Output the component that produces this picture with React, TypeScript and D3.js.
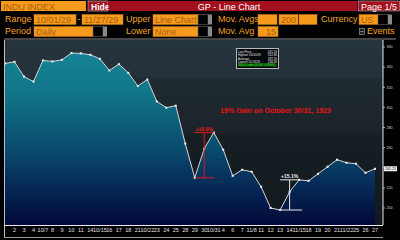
import React from "react";
import * as d3 from "d3";

const dates = [
  "10/1","10/2","10/3","10/4","10/7","10/8","10/9","10/10","10/11","10/14",
  "10/15","10/16","10/17","10/18","10/21","10/22","10/23","10/24","10/25","10/28",
  "10/29","10/30","10/31","11/4","11/6","11/7","11/8","11/11","11/12","11/13",
  "11/14","11/15","11/18","11/19","11/20","11/21","11/22","11/25","11/26","11/27",
];
const tickLabels = [
  "","2","3","4","10/7","8","9","10","11","14",
  "10/15","16","17","18","21","10/22","23","24","25","28",
  "29","30","10/31","4","6","7","11/8","11","12","13",
  "14","11/15","18","19","20","21","11/22","25","26","27",
];
const closes = [
  343.7,345.3,330.7,325.7,346.7,345.7,347.3,354.0,353.7,352.3,
  348.3,336.7,343.0,334.3,321.3,327.7,306.0,299.7,301.7,264.0,
  230.0,259.0,275.0,258.0,232.0,238.0,236.0,221.0,200.0,198.0,
  216.0,228.0,227.0,234.0,241.0,248.0,245.0,244.0,235.0,239.0,
];
const yTicks = [200,220,240,260,280,300,320,340,360];
const lastPriceLabel = "241.23";
const legendRows = [
  ["Last Price","241.23"],
  ["Highest 10/10/29","352.86"],
  ["Average","287.20"],
  ["Lowest 11/13/29","198.69"],
];
const legendGreen = "INDU Index (DOW JONES)";

const FONT = "'Liberation Sans', Arial, sans-serif";
const ORANGE = "#f59a1c";
const LABEL = "#f5a623";
const BOXTEXT = "#a85e0c";
const RED = "#a3101e";

const X0 = 5, X1 = 375, AXIS_X = 383;
const Y_TOP = 40, Y_BOT = 225;

export default function App() {
  const x = d3.scalePoint<string>().domain(dates).range([X0, X1]).padding(0);
  const y = d3.scaleLinear().domain([183.1, 367]).range([Y_BOT, Y_TOP]);
  const pts = dates.map((d, i) => [x(d) as number, y(closes[i])] as [number, number]);
  const line = d3.line<[number, number]>().x(p => p[0]).y(p => p[1])(pts) || "";
  const area = d3.area<[number, number]>().x(p => p[0]).y0(Y_BOT).y1(p => p[1])(pts) || "";
  const yLast = y(closes[closes.length - 1]);

  const box = (bx: number, by: number, w: number, text: string, anchor: "start" | "end" = "start") => (
    <g>
      <rect x={bx} y={by} width={w} height={10} fill={ORANGE} stroke="#c47a14" strokeWidth={0.5} />
      {text && (
        <text x={anchor === "start" ? bx + 2 : bx + w - 2} y={by + 8.3} fontSize={9} fill={BOXTEXT}
          textAnchor={anchor} fontFamily={FONT}>{text}</text>
      )}
    </g>
  );
  const drop = (bx: number, by: number) => (
    <g>
      <rect x={bx} y={by} width={10} height={10} fill="#000" stroke="#777" strokeWidth={0.5} />
      <rect x={bx + 10} y={by} width={4} height={10} fill="#8a8a8a" />
    </g>
  );
  const lbl = (lx: number, ly: number, t: string) => (
    <text x={lx} y={ly} fontSize={9} fill={LABEL} fontFamily={FONT}>{t}</text>
  );

  const rLowI = 20, rMidI = 21, rHighI = 22;
  const wLowI = 29, wMidI = 30, wHighI = 31;
  const xr = (i: number) => x(dates[i]) as number;

  return (
    <svg width={400} height={240} style={{ position: "absolute", left: 0, top: 0 }}
      fontFamily={FONT}>
      <defs>
        <linearGradient id="bg" x1="0" y1={Y_TOP} x2="0" y2={Y_BOT} gradientUnits="userSpaceOnUse">
          <stop offset="0" stopColor="#26343e" />
          <stop offset="0.2" stopColor="#24313a" />
          <stop offset="0.21" stopColor="#1f2a31" />
          <stop offset="0.5" stopColor="#1b242a" />
          <stop offset="0.51" stopColor="#171f24" />
          <stop offset="1" stopColor="#12181c" />
        </linearGradient>
        <linearGradient id="fill" x1="0" y1={Y_TOP} x2="0" y2={Y_BOT} gradientUnits="userSpaceOnUse">
          <stop offset="0" stopColor="#17899a" />
          <stop offset="0.3" stopColor="#107488" />
          <stop offset="0.6" stopColor="#0a4a6e" />
          <stop offset="0.8" stopColor="#052856" />
          <stop offset="1" stopColor="#020838" />
        </linearGradient>
      </defs>
      <rect x={0} y={0} width={400} height={240} fill="#000" />

      <rect x={1} y={1} width={85} height={10} fill={ORANGE} />
      <text x={3} y={9.5} fontSize={9} fill={BOXTEXT}>INDU INDEX</text>
      <rect x={88} y={1} width={20} height={10} fill={RED} stroke="#e8e8e8" strokeWidth={0.5} />
      <text x={91} y={9.5} fontSize={8.5} fill="#fff" fontWeight="bold">Hide</text>
      <rect x={108.5} y={1} width={249} height={10} fill={RED} />
      <text x={229} y={9.5} fontSize={9} fill="#fff" textAnchor="middle">GP - Line Chart</text>
      <rect x={358.5} y={1} width={41} height={10} fill={RED} stroke="#d0d0d0" strokeWidth={0.5} />
      <text x={361} y={9.5} fontSize={9} fill="#fff">Page 1/5</text>

      {lbl(5, 22, "Range")}
      {box(34, 14.5, 42, "10/01/29")}
      <text x={77.5} y={22} fontSize={9} fill={LABEL}>-</text>
      {box(82, 14.5, 41, "11/27/29")}
      {lbl(126, 22, "Upper")}
      {box(153, 14.5, 45, "Line Chart")}
      {drop(198, 14.5)}
      {lbl(218, 22, "Mov. Avgs")}
      {box(258, 14.5, 19, "")}
      {box(279, 14.5, 19, "200", "end")}
      {box(299, 14.5, 18, "")}
      {lbl(321, 22, "Currency")}
      {box(359, 14.5, 19, "US")}
      {drop(378, 14.5)}

      {lbl(5, 34, "Period")}
      {box(34, 26.5, 59, "Daily")}
      {drop(93, 26.5)}
      {lbl(126, 34, "Lower")}
      {box(153, 26.5, 45, "None")}
      {drop(198, 26.5)}
      {lbl(218, 34, "Mov. Avg")}
      {box(258, 26.5, 20, "15", "end")}
      <rect x={359.5} y={28.5} width={5} height={6} fill="#222" stroke="#aaa" strokeWidth={0.6} />
      <line x1={360.5} y1={31.5} x2={363.5} y2={31.5} stroke="#ccc" strokeWidth={0.6} />
      {lbl(367, 34, "Events")}

      <line x1={4} y1={39} x2={396} y2={39} stroke="#8a8a8a" strokeWidth={1} />
      <rect x={4.5} y={Y_TOP} width={AXIS_X - 4.5} height={Y_BOT - Y_TOP} fill="url(#bg)" />
      <path d={area} fill="url(#fill)" />
      <path d={line} fill="none" stroke="#d6d6d6" strokeWidth={1} />
      {pts.map((p, i) => (
        <rect key={i} x={p[0] - 1} y={p[1] - 1} width={2} height={2} fill="#f2f2f2" />
      ))}
      <line x1={4.5} y1={Y_TOP} x2={4.5} y2={237} stroke="#bdbdbd" strokeWidth={1} />

      <rect x={236.5} y={48.5} width={42} height={20} fill="#05080b" stroke="#b8b8b8" strokeWidth={1} />
      {legendRows.map((r, i) => (
        <g key={i}>
          <text x={238} y={52.5 + i * 3.5} fontSize={3} fill="#e8e8e8">{r[0]}</text>
          <text x={277} y={52.5 + i * 3.5} fontSize={3} fill="#e8e8e8" textAnchor="end">{r[1]}</text>
        </g>
      ))}
      <rect x={238} y={63.5} width={39} height={3.2} fill="#0a4a0a" />
      <text x={238.5} y={66.2} fontSize={3} fill="#34e034">{legendGreen}</text>

      <text x={220} y={113} fontSize={7.2} fontWeight="bold" fill="#ee1111" textLength={111}
        lengthAdjust="spacingAndGlyphs">19% Gain on October 30/31, 1929</text>

      <g stroke="#e01818" strokeWidth={1}>
        <line x1={xr(rLowI)} y1={y(closes[rLowI])} x2={xr(rHighI) + 1} y2={y(closes[rLowI])} />
        <line x1={xr(rMidI)} y1={y(closes[rLowI])} x2={xr(rMidI)} y2={y(closes[rHighI])} />
        <line x1={xr(rLowI)} y1={y(closes[rHighI])} x2={xr(rHighI)} y2={y(closes[rHighI])} />
      </g>
      <text x={xr(rMidI)} y={y(closes[rHighI]) - 1.5} fontSize={5} fill="#e81818" textAnchor="middle"
        fontWeight="bold">+18.9%</text>

      <g stroke="#e6e6e6" strokeWidth={1}>
        <line x1={xr(wLowI)} y1={y(closes[wLowI])} x2={xr(wHighI) + 3} y2={y(closes[wLowI])} />
        <line x1={xr(wMidI)} y1={y(closes[wLowI])} x2={xr(wMidI)} y2={y(closes[wHighI])} />
        <line x1={xr(wLowI)} y1={y(closes[wHighI])} x2={xr(wHighI) + 1} y2={y(closes[wHighI])} />
      </g>
      <text x={xr(wMidI)} y={y(closes[wHighI]) - 1.5} fontSize={5} fill="#f0f0f0" textAnchor="middle"
        fontWeight="bold">+15.1%</text>

      <line x1={AXIS_X} y1={Y_TOP} x2={AXIS_X} y2={Y_BOT} stroke="#e8e8e8" strokeWidth={1} />
      {yTicks.map(t => (
        <g key={t}>
          <line x1={AXIS_X} y1={y(t)} x2={AXIS_X + 2} y2={y(t)} stroke="#e8e8e8" strokeWidth={0.7} />
          {Math.abs(y(t) - yLast) > 5 && (
            <text x={AXIS_X + 3.5} y={y(t) + 1.3} fontSize={3.6} fill="#d8d8d8">{t}</text>
          )}
        </g>
      ))}
      <rect x={384} y={yLast - 2.5} width={13} height={5} fill="#f4f4f4" />
      <text x={390.5} y={yLast + 1.2} fontSize={3.6} fill="#000" textAnchor="middle">{lastPriceLabel}</text>

      <line x1={4} y1={Y_BOT + 0.5} x2={AXIS_X} y2={Y_BOT + 0.5} stroke="#e8e8e8" strokeWidth={1} />
      {dates.map((d, i) => (
        tickLabels[i] ? (
          <text key={d} x={x(d) as number} y={231.5} fontSize={5.5} fill="#e0e0e0" textAnchor="middle">
            {tickLabels[i]}
          </text>
        ) : null
      ))}
      <line x1={4} y1={237.5} x2={AXIS_X} y2={237.5} stroke="#9a9a9a" strokeWidth={1} />
    </svg>
  );
}
